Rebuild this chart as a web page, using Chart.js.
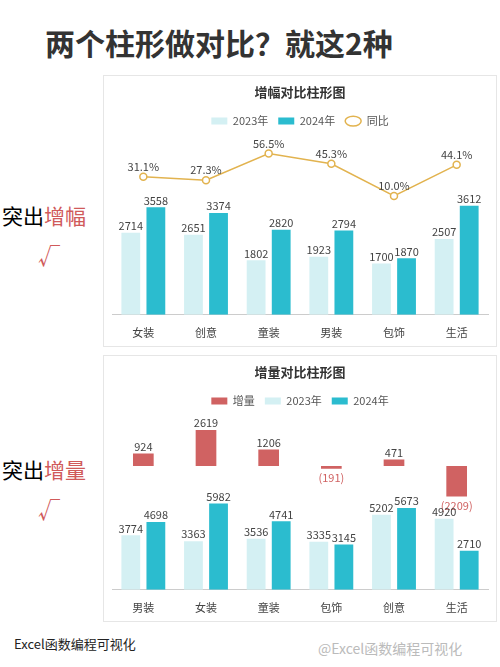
<!DOCTYPE html>
<html><head><meta charset="utf-8">
<script src="https://cdn.jsdelivr.net/npm/chart.js@4"></script>
<style>
body{margin:0;width:500px;height:667px;background:#fff;position:relative;font-family:"Noto Sans CJK SC",sans-serif;overflow:hidden}
.t{position:absolute;white-space:nowrap}
.card{position:absolute;border:1px solid #e6e6e6;background:#fff}
.r{color:#d05a5a}
</style></head><body>
<div class="t" style="left:45px;top:20px;font-size:30px;font-weight:bold;color:#333">两个柱形做对比？就这2种</div>
<div class="t" style="left:2px;top:200px;font-size:21px">突出<span class="r">增幅</span></div>
<div class="t r" style="left:38px;top:238px;font-size:22px">√</div>
<div class="t" style="left:2px;top:454px;font-size:21px">突出<span class="r">增量</span></div>
<div class="t r" style="left:38px;top:492px;font-size:22px">√</div>
<div class="t" style="left:14px;top:634px;font-size:13px;color:#222">Excel函数编程可视化</div>
<div class="t" style="left:318px;top:638px;font-size:14px;color:#bbb">@Excel函数编程可视化</div>
<div class="card" style="left:103px;top:75px;width:392px;height:270px"><canvas id="c1" width="392" height="270"></canvas></div>
<div class="card" style="left:103px;top:355px;width:392px;height:265px"><canvas id="c2" width="392" height="265"></canvas></div>
<script>
const cats1=['女装','创意','童装','男装','包饰','生活'];
const v2023a=[2714,2651,1802,1923,1700,2507];
const v2024a=[3558,3374,2820,2794,1870,3612];
const yoy=[31.1,27.3,56.5,45.3,10.0,44.1];
const cats2=['男装','女装','童装','包饰','创意','生活'];
const v2023b=[3774,3363,3536,3335,5202,4920];
const v2024b=[4698,5982,4741,3145,5673,2710];
const inc=[924,2619,1206,-191,471,-2209];
const C23='#d4f0f3',C24='#2bbccf',CL='#e2b34f',CR='#d06262';
const labels={id:'lbl',afterDatasetsDraw(ch){const ctx=ch.ctx;ctx.save();ctx.font='11px "Noto Sans CJK SC"';ctx.textAlign='center';ctx.textBaseline='middle';
ch.data.datasets.forEach((ds,i)=>{ch.getDatasetMeta(i).data.forEach((el,j)=>{const v=ds.data[j];let t,y;
if(ds.type==='line'){t=v.toFixed(1)+'%';y=el.y-10;ctx.fillStyle='#444';}
else if(v<0){t='('+(-v)+')';y=Math.max(el.y,el.base)+9;ctx.fillStyle=CR;}
else{t=String(v);y=el.y-7;ctx.fillStyle='#444';}
ctx.fillText(t,el.x,y);});});ctx.restore();}};
const legendLabels={usePointStyle:true,pointStyleWidth:16,boxHeight:7,font:{size:11,family:'Noto Sans CJK SC'},color:'#555',padding:10,sort:(a,b)=>a.datasetIndex-b.datasetIndex};
const common={responsive:false,animation:false,layout:{padding:{left:8,right:8,bottom:4}},
plugins:{title:{display:true,color:'#333',font:{size:13,weight:'bold',family:'Noto Sans CJK SC'},padding:{top:8,bottom:6}},
legend:{labels:legendLabels}}};
const xs={grid:{display:false},border:{color:'#ccc'},ticks:{color:'#444',font:{size:11,family:'Noto Sans CJK SC'}}};
new Chart(document.getElementById('c1'),{type:'bar',plugins:[labels],data:{labels:cats1,datasets:[
{label:'2023年',data:v2023a,backgroundColor:C23,pointStyle:'rect',yAxisID:'y',order:2,barPercentage:0.75,categoryPercentage:0.8},
{label:'2024年',data:v2024a,backgroundColor:C24,pointStyle:'rect',yAxisID:'y',order:2,barPercentage:0.75,categoryPercentage:0.8},
{type:'line',label:'同比',data:yoy,borderColor:CL,backgroundColor:'#fff',pointStyle:'circle',pointBorderColor:CL,pointBackgroundColor:'#fff',pointRadius:3.5,borderWidth:1.5,yAxisID:'y1',order:1}]},
options:{...common,plugins:{...common.plugins,title:{...common.plugins.title,text:'增幅对比柱形图'}},
scales:{x:xs,y:{display:false,min:0,max:5900},y1:{display:false,min:-120,max:75}}}});
new Chart(document.getElementById('c2'),{type:'bar',plugins:[labels],data:{labels:cats2,datasets:[
{label:'增量',data:inc,backgroundColor:CR,pointStyle:'rect',yAxisID:'y1',grouped:false,barPercentage:0.33,categoryPercentage:1},
{label:'2023年',data:v2023b,backgroundColor:C23,pointStyle:'rect',yAxisID:'y',barPercentage:0.75,categoryPercentage:0.8},
{label:'2024年',data:v2024b,backgroundColor:C24,pointStyle:'rect',yAxisID:'y',barPercentage:0.75,categoryPercentage:0.8}]},
options:{...common,plugins:{...common.plugins,title:{...common.plugins.title,text:'增量对比柱形图'}},
scales:{x:xs,y:{display:false,min:0,max:12000},y1:{display:false,min:-9000,max:3600}}}});
</script></body></html>
